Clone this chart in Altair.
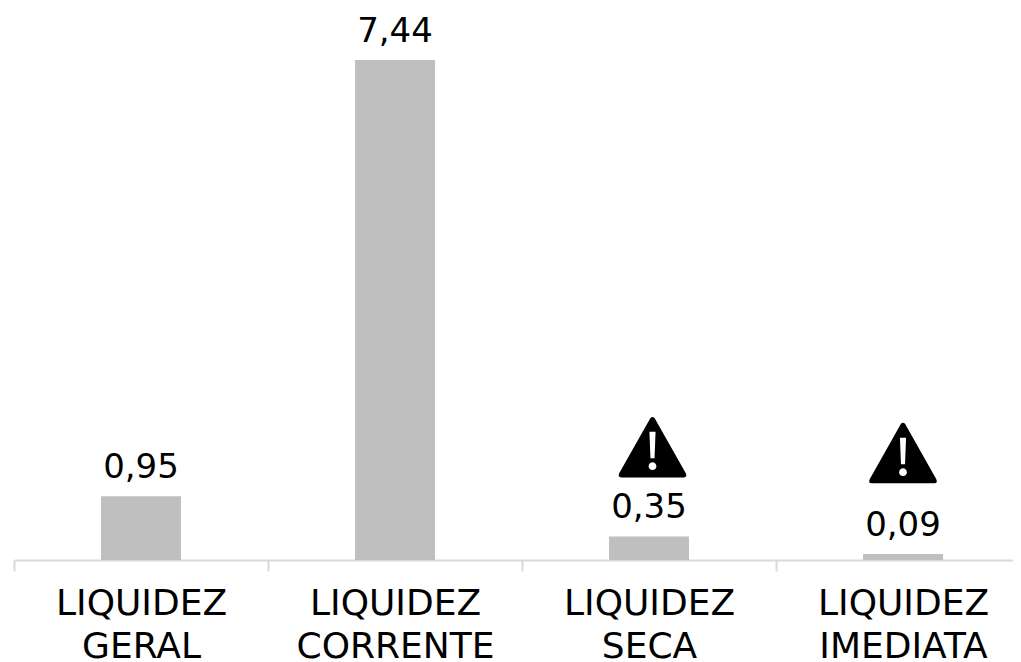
import altair as alt
import pandas as pd

cats = ["LIQUIDEZ GERAL", "LIQUIDEZ CORRENTE", "LIQUIDEZ SECA", "LIQUIDEZ IMEDIATA"]
vals = [0.95, 7.44, 0.35, 0.09]
labels = ["0,95", "7,44", "0,35", "0,09"]
df = pd.DataFrame({"c": cats, "v": vals, "l": labels})

FONT = "DejaVu Sans"
ICON = ("M -0.06 -0.87 Q 0 -0.93 0.06 -0.87 L 0.98 0.76 Q 1.03 0.87 0.92 0.88 "
        "L -0.92 0.88 Q -1.03 0.87 -0.98 0.76 Z "
        "M -0.09 -0.46 L -0.06 0.32 L 0.06 0.32 L 0.09 -0.46 Z "
        "M -0.115 0.55 A 0.115 0.115 0 0 0 0.115 0.55 A 0.115 0.115 0 0 0 -0.115 0.55 Z")

x = alt.X("c:N", sort=cats,
          scale=alt.Scale(range=[0, 1016], paddingInner=0.685, paddingOuter=0.3425),
          axis=alt.Axis(title=None, labelExpr="split(datum.label,' ')", labelAngle=0, labelFont=FONT,
                        labelFontSize=36, labelColor="#000000", labelLineHeight=43, labelPadding=15,
                        labelLimit=400, labelOverlap=False, labelBound=False, labelFlush=False,
                        domainColor="#d9d9d9", domainWidth=2, tickColor="#d9d9d9", tickWidth=2,
                        tickSize=11, tickOffset=-127, labelOffset=127, grid=False))
y = alt.Y("v:Q", scale=alt.Scale(domain=[0, 8.14], nice=False), axis=None)

base = alt.Chart(df)
bars = base.mark_bar(color="#bfbfbf").encode(x=x, y=y)
text = base.mark_text(baseline="alphabetic", dy=-18, fontSize=34, font=FONT, color="#000000").encode(
    x=x, y=y, text="l:N")


def icon(cat, dx, dy):
    return base.transform_filter(alt.datum.c == cat).mark_point(
        shape=ICON, filled=True, color="#000000", opacity=1, size=4624, strokeWidth=0,
        xOffset=dx, yOffset=dy).encode(x=x, y=y)


chart = alt.layer(bars, text, icon("LIQUIDEZ SECA", 3.5, -89), icon("LIQUIDEZ IMEDIATA", 0, -100.5)).properties(
    width=999, height=547,
    autosize=alt.AutoSizeParams(type="none"),
    padding={"left": 6, "right": 0, "top": 5, "bottom": 102},
).configure_view(stroke=None)
chart.save("out.html", embed_options={"renderer": "svg", "actions": False})
